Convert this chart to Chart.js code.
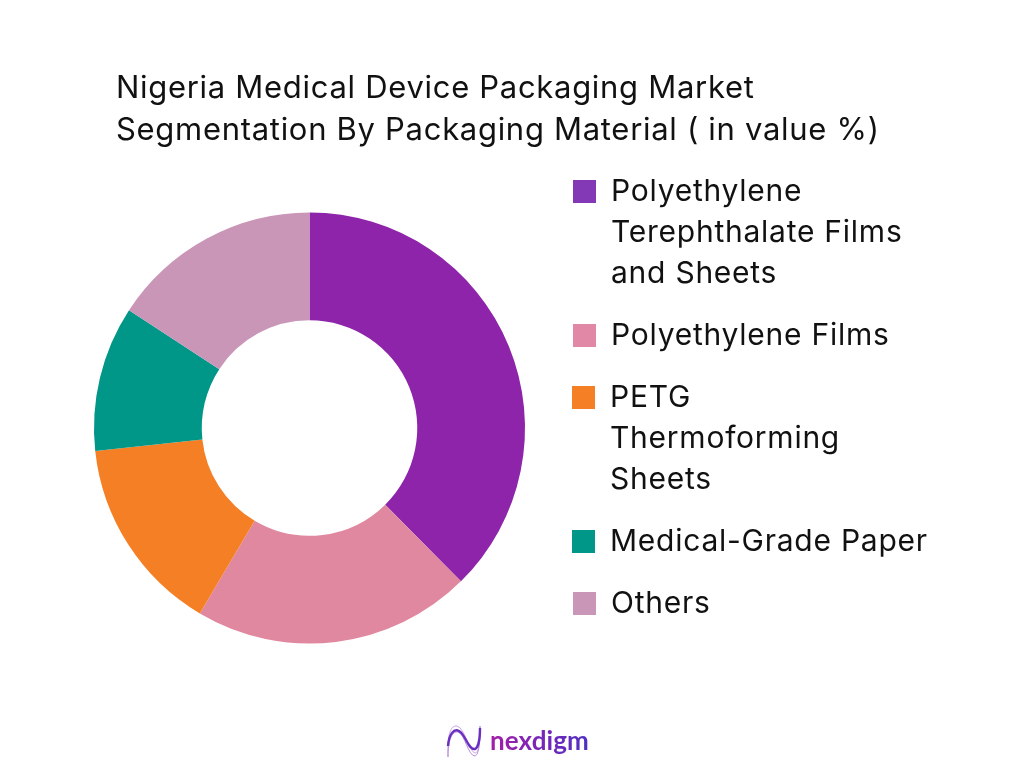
<!DOCTYPE html>
<html>
<head>
<meta charset="utf-8">
<title>Nigeria Medical Device Packaging Market</title>
<script src="https://cdn.jsdelivr.net/npm/chart.js@4"></script>
<style>
  html, body { margin: 0; padding: 0; background: #fff; }
  body { width: 1024px; height: 768px; position: relative; overflow: hidden; font-family: Inter, sans-serif; color: #111; }
  #chart { position: absolute; left: 0; top: 0; }
  #title { position: absolute; left: 116px; top: 66px; font-size: 31px; line-height: 42px; letter-spacing: 0.7px; white-space: nowrap; }
  #legend { position: absolute; left: 573px; top: 170px; list-style: none; margin: 0; padding: 0; }
  #legend li { position: relative; padding-left: 38px; margin-bottom: 21px; font-size: 30px; line-height: 41px; letter-spacing: 0.75px; white-space: nowrap; }
  #legend li:nth-child(3), #legend li:nth-child(4) { left: -1px; }
  #legend i { position: absolute; left: 0; top: 10px; width: 23px; height: 23px; }
  #logo { position: absolute; left: 445px; top: 722px; }
  #brand { position: absolute; left: 490px; top: 724px; font: 700 26px/32px Lato, sans-serif; letter-spacing: 0.1px;
    background: linear-gradient(90deg, #a31fa8, #4f2fc4); -webkit-background-clip: text; background-clip: text; color: transparent; }
</style>
</head>
<body>
<canvas id="chart" width="1024" height="768" style="width:1024px;height:768px"></canvas>
<div id="title"></div>
<ul id="legend"></ul>
<svg id="logo" width="38" height="38" viewBox="0 0 38 38" fill="none">
  <path d="M3 35C2 12 6 3 12 4C20 6 24 30 30 31C34 31 35 20 35 4" stroke="#c9a6e0" stroke-width="1"/>
  <path d="M3 35C3 18 7 9 13 10C20 12 23 34 30 34C34 33 35 20 35 4" stroke="#b98ad8" stroke-width="1"/>
  <path d="M3 24C4 12 9 6 14 9C21 13 23 28 30 27C33 26 35 18 35 6" stroke="#6a2fc0" stroke-width="2.4"/>
</svg>
<div id="brand">nexdigm</div>
<script>
const titleLines = [
  'Nigeria Medical Device Packaging Market',
  'Segmentation By Packaging Material ( in value %)'
];
const categories = [
  'Polyethylene Terephthalate Films and Sheets',
  'Polyethylene Films',
  'PETG Thermoforming Sheets',
  'Medical-Grade Paper',
  'Others'
];
const legendLines = [
  ['Polyethylene', 'Terephthalate Films', 'and Sheets'],
  ['Polyethylene Films'],
  ['PETG', 'Thermoforming', 'Sheets'],
  ['Medical-Grade Paper'],
  ['Others']
];
const shares = [37.6, 20.9, 14.8, 10.9, 15.8];
const sliceColors = ['#8e24aa', '#e088a0', '#f57f25', '#009688', '#c996b8'];
const swatchColors = ['#8338b5', '#e088a5', '#f57f25', '#009688', '#c996b8'];

document.getElementById('title').innerHTML = titleLines.join('<br>');

document.getElementById('legend').innerHTML = legendLines.map((lines, i) =>
  `<li><i style="background:${swatchColors[i]}"></i>${lines.join('<br>')}</li>`
).join('');

const ctx = document.getElementById('chart').getContext('2d');
new Chart(ctx, {
  type: 'doughnut',
  data: {
    labels: categories,
    datasets: [{ data: shares, backgroundColor: sliceColors, borderWidth: 0 }]
  },
  options: {
    responsive: false,
    animation: false,
    cutout: '50%',
    layout: { padding: { left: 94, top: 212, right: 499, bottom: 124 } },
    plugins: { legend: { display: false }, tooltip: { enabled: false } }
  }
});
</script>
</body>
</html>
